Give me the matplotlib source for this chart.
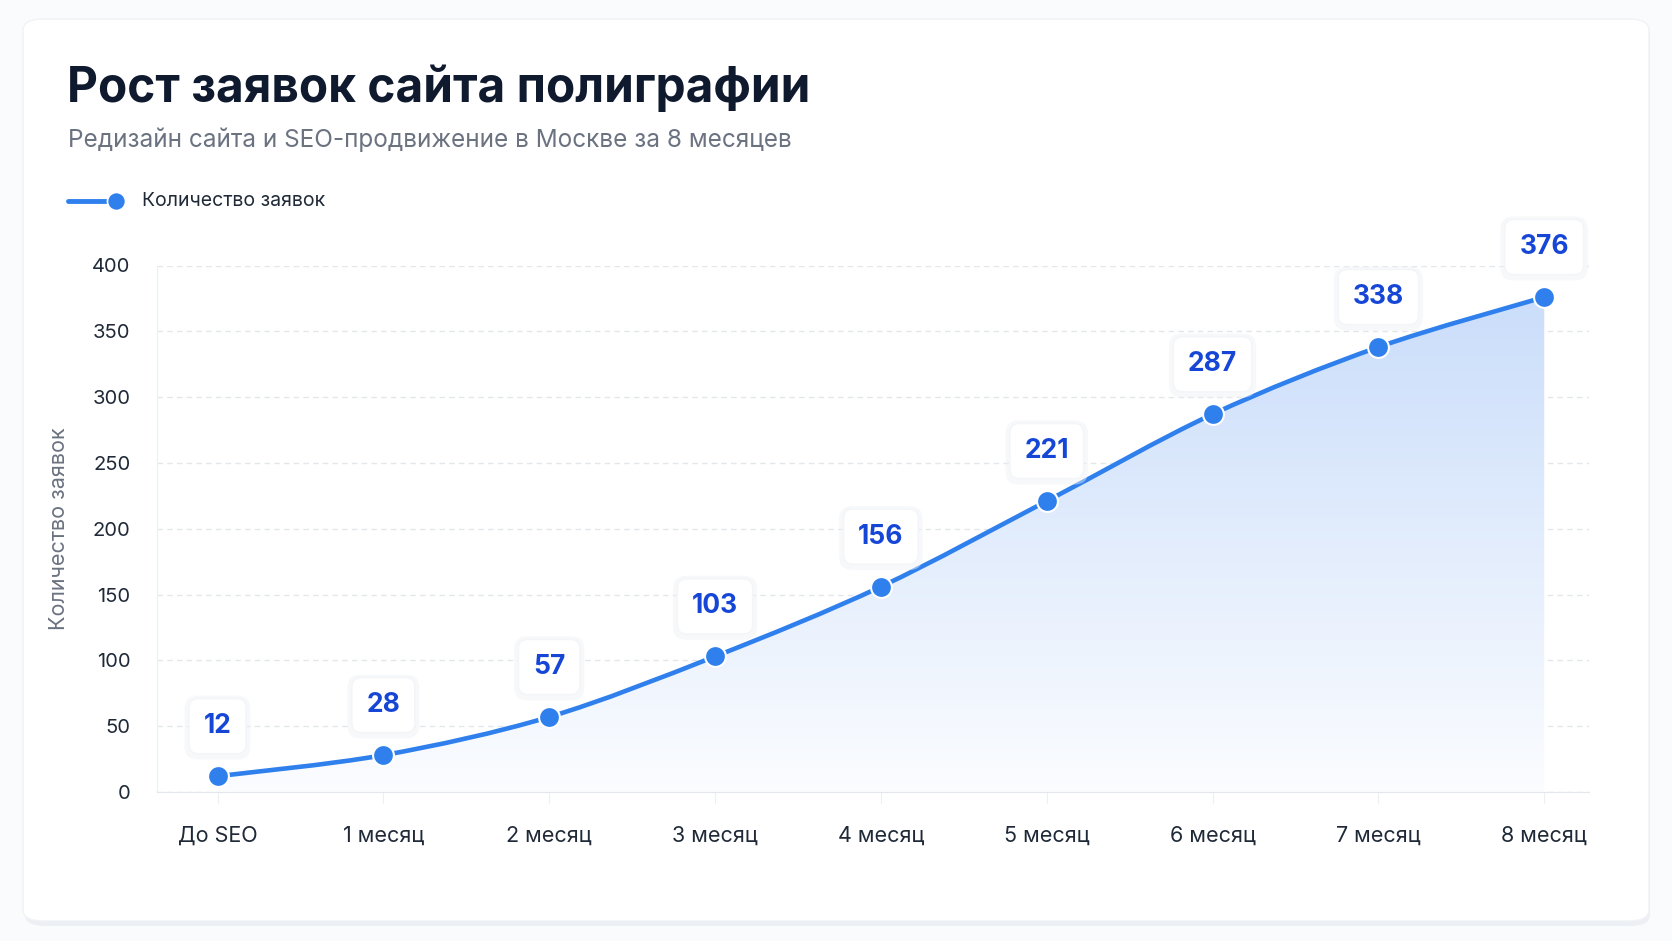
import numpy as np
import matplotlib.pyplot as plt
from matplotlib.path import Path
from matplotlib.patches import PathPatch, FancyBboxPatch
from matplotlib.lines import Line2D

plt.rcParams['font.family'] = ['Inter', 'DejaVu Sans']

#---------------------
# данные
#---------------------
months = ['До SEO', '1 месяц', '2 месяц', '3 месяц', '4 месяц',
          '5 месяц', '6 месяц', '7 месяц', '8 месяц']
leads = [12, 28, 57, 103, 156, 221, 287, 338, 376]
y_ticks = [0, 50, 100, 150, 200, 250, 300, 350, 400]

title = 'Рост заявок сайта полиграфии'
subtitle = 'Редизайн сайта и SEO-продвижение в Москве за 8 месяцев'
series_name = 'Количество заявок'

W, H = 1672, 941
BLUE = '#2f80ed'
LABEL_BLUE = '#1646d6'


def fx(px):
    return px / W


def fy(py):
    return 1 - py / H


fig = plt.figure(figsize=(W / 100, H / 100), dpi=100)
fig.patch.set_facecolor('#fafbfc')

# карточка с тенью
shadow = FancyBboxPatch((fx(25), fy(926)), fx(1650) - fx(25), fy(22) - fy(926),
                        boxstyle='round,pad=0,rounding_size=0.012',
                        transform=fig.transFigure, facecolor='#eceff3',
                        edgecolor='none', zorder=0)
card = FancyBboxPatch((fx(23), fy(921)), fx(1649) - fx(23), fy(19) - fy(921),
                      boxstyle='round,pad=0,rounding_size=0.012',
                      transform=fig.transFigure, facecolor='white',
                      edgecolor='#f0f2f5', lw=1, zorder=0)
fig.add_artist(shadow)
fig.add_artist(card)

fig.text(fx(67), fy(102), title, fontsize=34.4, fontweight='bold',
         color='#0f1a2e', va='baseline', ha='left')
fig.text(fx(68), fy(147), subtitle, fontsize=17.5, color='#6b7280',
         va='baseline', ha='left')

# легенда
leg_y = 201
fig.add_artist(Line2D([fx(68), fx(110)], [fy(leg_y), fy(leg_y)],
                      transform=fig.transFigure, color=BLUE, lw=3.5,
                      solid_capstyle='round'))
fig.add_artist(Line2D([fx(116)], [fy(leg_y)], transform=fig.transFigure,
                      marker='o', ms=13, color=BLUE, mec='white', mew=1.2))
fig.text(fx(142), fy(leg_y), series_name, fontsize=14, color='#1f2937',
         va='center', ha='left')

#---------------------
# график
#---------------------
left, right, top, bottom = 157, 1589, 265.5, 792
ax = fig.add_axes([fx(left), fy(bottom), fx(right) - fx(left), fy(top) - fy(bottom)])
ax.set_facecolor('none')

x = np.arange(len(months))
y = np.array(leads, dtype=float)

# сглаженная линия (безье по точкам)
k = 0.16
verts = [(x[0], y[0])]
codes = [Path.MOVETO]
n = len(x)
for i in range(n - 1):
    p0 = np.array([x[max(i - 1, 0)], y[max(i - 1, 0)]])
    p1 = np.array([x[i], y[i]])
    p2 = np.array([x[i + 1], y[i + 1]])
    p3 = np.array([x[min(i + 2, n - 1)], y[min(i + 2, n - 1)]])
    c1 = p1 + (p2 - p0) * k
    c2 = p2 - (p3 - p1) * k
    verts += [tuple(c1), tuple(c2), tuple(p2)]
    codes += [Path.CURVE4] * 3

curve = Path(verts, codes)
fill_path = Path(verts + [(x[-1], 0), (x[0], 0), (x[0], y[0])],
                 codes + [Path.LINETO, Path.LINETO, Path.CLOSEPOLY])

# градиентная заливка
grad = np.linspace(1, 0, 256).reshape(-1, 1)
top_c = np.array([0.78, 0.86, 0.98])
bot_c = np.array([0.985, 0.99, 1.0])
img = top_c * grad[..., None] + bot_c * (1 - grad[..., None])
img = img.reshape(256, 1, 3)
im = ax.imshow(img, extent=[x[0], x[-1], 0, 400], aspect='auto',
               origin='upper', zorder=1, interpolation='bilinear')
clip = PathPatch(fill_path, transform=ax.transData, facecolor='none', edgecolor='none')
ax.add_patch(clip)
im.set_clip_path(clip)
ax.set_xlim(-0.365, len(months) - 1 + 0.27)
ax.set_ylim(0, 400)

ax.add_patch(PathPatch(curve, facecolor='none', edgecolor=BLUE, lw=3.3,
                       zorder=3, capstyle='round'))
ax.plot(x, y, 'o', color=BLUE, ms=15, mec='white', mew=1.5, zorder=4, clip_on=False)

for xi, yi in zip(x, leads):
    # мягкая тень под подписью
    ax.annotate(str(yi), (xi, yi), xytext=(0, 35), textcoords='offset points',
                ha='center', va='center', fontsize=19, fontweight='bold',
                color='none', zorder=5,
                bbox=dict(boxstyle='round,pad=0.72,rounding_size=0.5',
                          facecolor='#eef1f6', alpha=0.45, edgecolor='none'))
    ax.annotate(str(yi), (xi, yi), xytext=(0, 36), textcoords='offset points',
                ha='center', va='center', fontsize=19, fontweight='bold',
                color=LABEL_BLUE, zorder=6,
                bbox=dict(boxstyle='round,pad=0.55,rounding_size=0.35',
                          facecolor='white', edgecolor='#f3f5f8', lw=1))

ax.set_yticks(y_ticks)
ax.set_xticks(x)
ax.set_xticklabels(months)
ax.grid(axis='y', color='#e3e6ea', ls=(0, (4, 3)), lw=1)
ax.set_axisbelow(True)
for s in ['top', 'right']:
    ax.spines[s].set_visible(False)
ax.spines['left'].set_color('#eceef1')
ax.spines['bottom'].set_color('#e3e6ea')
ax.tick_params(axis='y', length=0, pad=19, labelsize=14.5, labelcolor='#1f2937')
ax.tick_params(axis='x', length=8, color='#eceef1', pad=16, labelsize=15.5,
               labelcolor='#1f2937')
ax.set_ylabel(series_name, fontsize=15.5, color='#6b7280', labelpad=17)

fig.savefig('out.png', dpi=100, facecolor=fig.get_facecolor())
